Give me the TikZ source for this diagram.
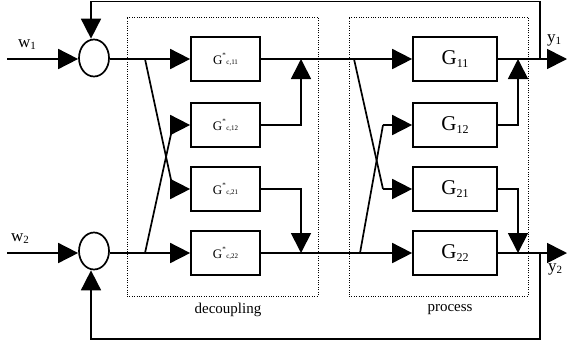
\documentclass[tikz,border=0pt]{standalone}
\usepackage{fontspec}
\setmainfont{Liberation Serif}
\usetikzlibrary{arrows.meta,shapes.geometric}
\newcommand{\gcstar}[1]{{\fontsize{13}{13}\selectfont G}\raisebox{7pt}{\fontsize{7}{7}\selectfont *}\hspace{0.5pt}\raisebox{-0.5pt}{\fontsize{7}{7}\selectfont c,#1}}
\newcommand{\gproc}[1]{{\fontsize{21}{21}\selectfont G}\raisebox{-2.5pt}{\fontsize{12}{12}\selectfont #1}}
\newcommand{\lbl}[2]{{\fontsize{17}{17}\selectfont #1}\raisebox{-2pt}{\fontsize{11}{11}\selectfont #2}}
\tikzset{
  x=1pt, y=-1pt,
  line/.style={line width=1.7pt},
  arr/.style={line width=1.7pt, -{Triangle[length=20pt,width=20pt]}},
  sumnode/.style={ellipse, draw, line width=1.7pt, minimum width=30pt, minimum height=37pt, inner sep=0pt},
  cbox/.style={rectangle, draw, line width=1.7pt, minimum width=69pt, minimum height=44pt, inner sep=0pt},
  pbox/.style={rectangle, draw, line width=1.7pt, minimum width=84pt, minimum height=44pt, inner sep=0pt},
  dotbox/.style={rectangle, draw, line width=1pt, dash pattern=on 1pt off 1.4pt, inner sep=0pt},
  txt/.style={inner sep=0pt, font=\fontsize{15}{15}\selectfont}
}
\begin{document}
\begin{tikzpicture}
\useasboundingbox (0,0) rectangle (569,349);
% dotted groups
\node[dotbox, minimum width=191pt, minimum height=279pt] (dec) at (222.5,156.5) {};
\node[dotbox, minimum width=179pt, minimum height=279pt] (proc) at (438.5,156.5) {};
\node[txt] (declbl) at (228,310) {decoupling};
\node[txt] (proclbl) at (450,310) {process};
% summing circles
\node[sumnode] (c1) at (94,58) {};
\node[sumnode] (c2) at (94,251) {};
% blocks
\node[cbox] (gc11) at (225.5,59) {\gcstar{11}};
\node[cbox] (gc12) at (225.5,125) {\gcstar{12}};
\node[cbox] (gc21) at (225.5,189) {\gcstar{21}};
\node[cbox] (gc22) at (225.5,253) {\gcstar{22}};
\node[pbox] (g11) at (455,59) {\gproc{11}};
\node[pbox] (g12) at (455,125) {\gproc{12}};
\node[pbox] (g21) at (455,189) {\gproc{21}};
\node[pbox] (g22) at (455,253) {\gproc{22}};
% labels
\node[inner sep=0pt] (w1) at (27,45) {\lbl{w}{1}};
\node[inner sep=0pt] (w2) at (20,239) {\lbl{w}{2}};
\node[inner sep=0pt] (y1) at (554,40) {\lbl{y}{1}};
\node[inner sep=0pt] (y2) at (555,269) {\lbl{y}{2}};
% coordinates
\coordinate (in1) at (7,59);
\coordinate (in2) at (7,253);
\coordinate (b1) at (145,59);
\coordinate (b2) at (145,253);
\coordinate (d12) at (173,125);
\coordinate (d21) at (173,189);
\coordinate (s1) at (301,59);
\coordinate (s2) at (301,253);
\coordinate (p1) at (354,59);
\coordinate (p2) at (360,253);
\coordinate (pd12) at (383,125);
\coordinate (pd21) at (383,189);
\coordinate (s3) at (518,59);
\coordinate (s4) at (518,253);
\coordinate (out1) at (567,59);
\coordinate (out2) at (567,253);
\coordinate (fb1) at (540,59);
\coordinate (fb2) at (540,253);
\coordinate (ftr) at (540,1.5);
\coordinate (ftl) at (91,1.5);
\coordinate (fbr) at (540,339);
\coordinate (fbl) at (91,339);
% inputs
\draw[arr] (in1) -- (c1.west |- in1);
\draw[arr] (in2) -- (c2.west |- in2);
% decoupling
\draw[arr] (c1.east |- in1) -- (gc11.west);
\draw[arr] (c2.east |- in2) -- (gc22.west);
\draw[line] (b1) -- (d21);
\draw[arr] (d21) -- (gc21.west);
\draw[line] (b2) -- (d12);
\draw[arr] (d12) -- (gc12.west);
\draw[arr] (gc12.east) -| (s1);
\draw[arr] (gc21.east) -| (s2);
% to process
\draw[arr] (gc11.east) -- (g11.west);
\draw[arr] (gc22.east) -- (g22.west);
\draw[line] (p1) -- (pd21);
\draw[arr] (pd21) -- (g21.west);
\draw[line] (p2) -- (pd12);
\draw[arr] (pd12) -- (g12.west);
\draw[arr] (g12.east) -| (s3);
\draw[arr] (g21.east) -| (s4);
% outputs
\draw[arr] (g11.east) -- (out1);
\draw[arr] (g22.east) -- (out2);
% feedback
\draw[arr] (fb1) -- (ftr) -- (ftl) -- (ftl |- c1.north);
\draw[arr] (fb2) -- (fbr) -- (fbl) -- (fbl |- c2.south);
\end{tikzpicture}
\end{document}
